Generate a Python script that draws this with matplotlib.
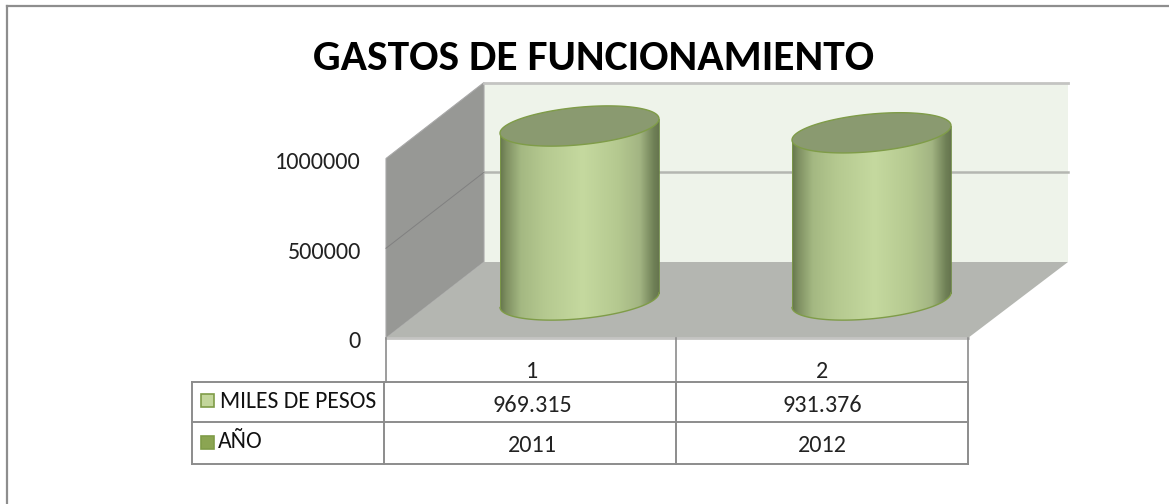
import numpy as np
import matplotlib
matplotlib.use("Agg")
import matplotlib.pyplot as plt
from matplotlib.colors import LinearSegmentedColormap
from matplotlib.patches import Polygon, Rectangle

# Values
title = "GASTOS DE FUNCIONAMIENTO"
categories = ["1", "2"]
miles_de_pesos = [969315, 931376]
miles_labels = ["969.315", "931.376"]
anio = ["2011", "2012"]
y_ticks = [0, 500000, 1000000]
series_names = ["MILES DE PESOS", "AÑO"]

W, H = 1169, 504
PX_PER_UNIT = 179.5 / 1000000  # vertical pixels for one unit of value
GRAY = "#8c8c8c"
TEXT_SIZE = 17.4

plt.rcParams["font.family"] = ["Carlito", "Lato", "DejaVu Sans"]

fig = plt.figure(figsize=(W / 100, H / 100), dpi=100)
ax = fig.add_axes([0, 0, 1, 1])
ax.set_xlim(0, W)
ax.set_ylim(H, 0)
ax.axis("off")

# frame of the chart, only top and left show in the crop
ax.plot([6.5, W], [6, 6], color="#8e8e8e", lw=1.6)
ax.plot([6.5, 6.5], [6, H], color="#8e8e8e", lw=1.6)

ax.text(594, 59, title, ha="center", va="center", fontsize=31.3, fontweight="bold",
        color="black")

# 3D box: back wall, side wall, floor
FRONT_Y, BACK_Y = 338, 262
FRONT_X, BACK_X = 386, 484
ax.add_patch(Rectangle((BACK_X, BACK_Y - 1000000 * PX_PER_UNIT), 1068 - BACK_X,
                       1000000 * PX_PER_UNIT, fc="#eef3ea", ec="none"))
ax.add_patch(Polygon([(FRONT_X, FRONT_Y), (FRONT_X, FRONT_Y - 1000000 * PX_PER_UNIT),
                      (BACK_X, BACK_Y - 1000000 * PX_PER_UNIT), (BACK_X, BACK_Y)],
                     fc="#979895", ec="#a8a8a8", lw=0.8))
ax.add_patch(Polygon([(FRONT_X, FRONT_Y), (BACK_X, BACK_Y), (1068, BACK_Y), (968, FRONT_Y)],
                     fc="#b4b6b1", ec="none"))

# gridlines
ax.plot([BACK_X, 1068], [BACK_Y - 1000000 * PX_PER_UNIT] * 2, color="#c4c4c2", lw=2)
ax.plot([BACK_X, 1068], [BACK_Y - 500000 * PX_PER_UNIT] * 2, color="#b4b6b1", lw=1.8)
ax.plot([FRONT_X, BACK_X], [FRONT_Y - 500000 * PX_PER_UNIT, BACK_Y - 500000 * PX_PER_UNIT],
        color="#808080", lw=0.7)
ax.plot([FRONT_X, 968], [FRONT_Y, FRONT_Y], color="#c4c4c2", lw=2)

for tick in y_ticks:
    ax.text(361, FRONT_Y + 4 - tick * PX_PER_UNIT, str(tick), ha="right", va="center",
            fontsize=TEXT_SIZE, color="#222222")

# cylinders
side_cmap = LinearSegmentedColormap.from_list("side", [
    (0.0, "#66774c"), (0.04, "#7f9062"), (0.13, "#a4b882"), (0.28, "#b5c990"),
    (0.52, "#c5d99f"), (0.74, "#b5c990"), (0.88, "#a3b583"), (0.97, "#6f8056"), (1.0, "#66754f")])
gradient = np.linspace(0, 1, 256).reshape(1, -1)
t = np.linspace(0, 2 * np.pi, 200)
bar_lefts = [500, 792]
BAR_W = 159
TILT = 7.2
B = 18.8
BASE_CY = 300

for left, value in zip(bar_lefts, miles_de_pesos):
    cx = left + BAR_W / 2
    top_cy = BASE_CY - value * PX_PER_UNIT
    ex = cx + BAR_W / 2 * np.cos(t)
    # sheared ellipse keeps vertical tangents at the side edges
    top_y = top_cy - TILT * np.cos(t) + B * np.sin(t)
    base_y = BASE_CY - TILT * np.cos(t) + B * np.sin(t)
    lower = np.sin(t) >= 0
    order = np.argsort(ex[lower])
    low_x, low_y = ex[lower][order], base_y[lower][order]
    # body outline: top edge straight across, bottom along the front of the base
    verts = [(left, top_cy + TILT)] + list(zip(low_x, low_y)) + [(left + BAR_W, top_cy - TILT)]
    body = Polygon(verts, closed=True, fc="none", ec="none")
    ax.add_patch(body)
    im = ax.imshow(gradient, extent=[left, left + BAR_W, 330, 90], cmap=side_cmap,
                   aspect="auto", zorder=3)
    im.set_clip_path(body)
    ax.plot(low_x, low_y, color="#7f9c48", lw=1, zorder=4)
    ax.plot([left, left], [top_cy + TILT, BASE_CY + TILT], color="#7f9c48", lw=0.6, zorder=4)
    ax.plot([left + BAR_W] * 2, [top_cy - TILT, BASE_CY - TILT], color="#6f8a45", lw=0.6, zorder=4)
    ax.fill(ex, top_y, fc="#8a9a70", ec="#7f9c48", lw=1, zorder=5)

# restore limits, imshow changes them
ax.set_xlim(0, W)
ax.set_ylim(H, 0)

# data table
col_x = [192, 384, 676, 968]
row_y = [382, 422, 464]
for x in col_x[1:]:
    ax.plot([x + (2 if x == 384 else 0)] * 2, [FRONT_Y, row_y[0]], color=GRAY, lw=1.2)
for y in row_y:
    ax.plot([col_x[0], col_x[-1]], [y, y], color=GRAY, lw=1.4)
for x in col_x:
    ax.plot([x, x], [row_y[0], row_y[2]], color=GRAY, lw=1.4)

centers = [532, 822]
for c, cat, lab, yr in zip(centers, categories, miles_labels, anio):
    ax.text(c, 371, cat, ha="center", va="center", fontsize=TEXT_SIZE, color="#222222")
    ax.text(c, 405, lab, ha="center", va="center", fontsize=TEXT_SIZE, color="#222222")
    ax.text(c, 446, yr, ha="center", va="center", fontsize=TEXT_SIZE, color="#222222")

ax.add_patch(Rectangle((201, 394), 13, 13, fc="#c3d69b", ec="#7f9c48", lw=1.2))
ax.add_patch(Rectangle((201, 436), 13, 13, fc="#8ba552", ec="#7f9c48", lw=1.2))
ax.text(220, 402, series_names[0], ha="left", va="center", fontsize=17, color="#111111")
ax.text(218, 442, series_names[1], ha="left", va="center", fontsize=17, color="#111111")

fig.savefig("out.png", dpi=100)
